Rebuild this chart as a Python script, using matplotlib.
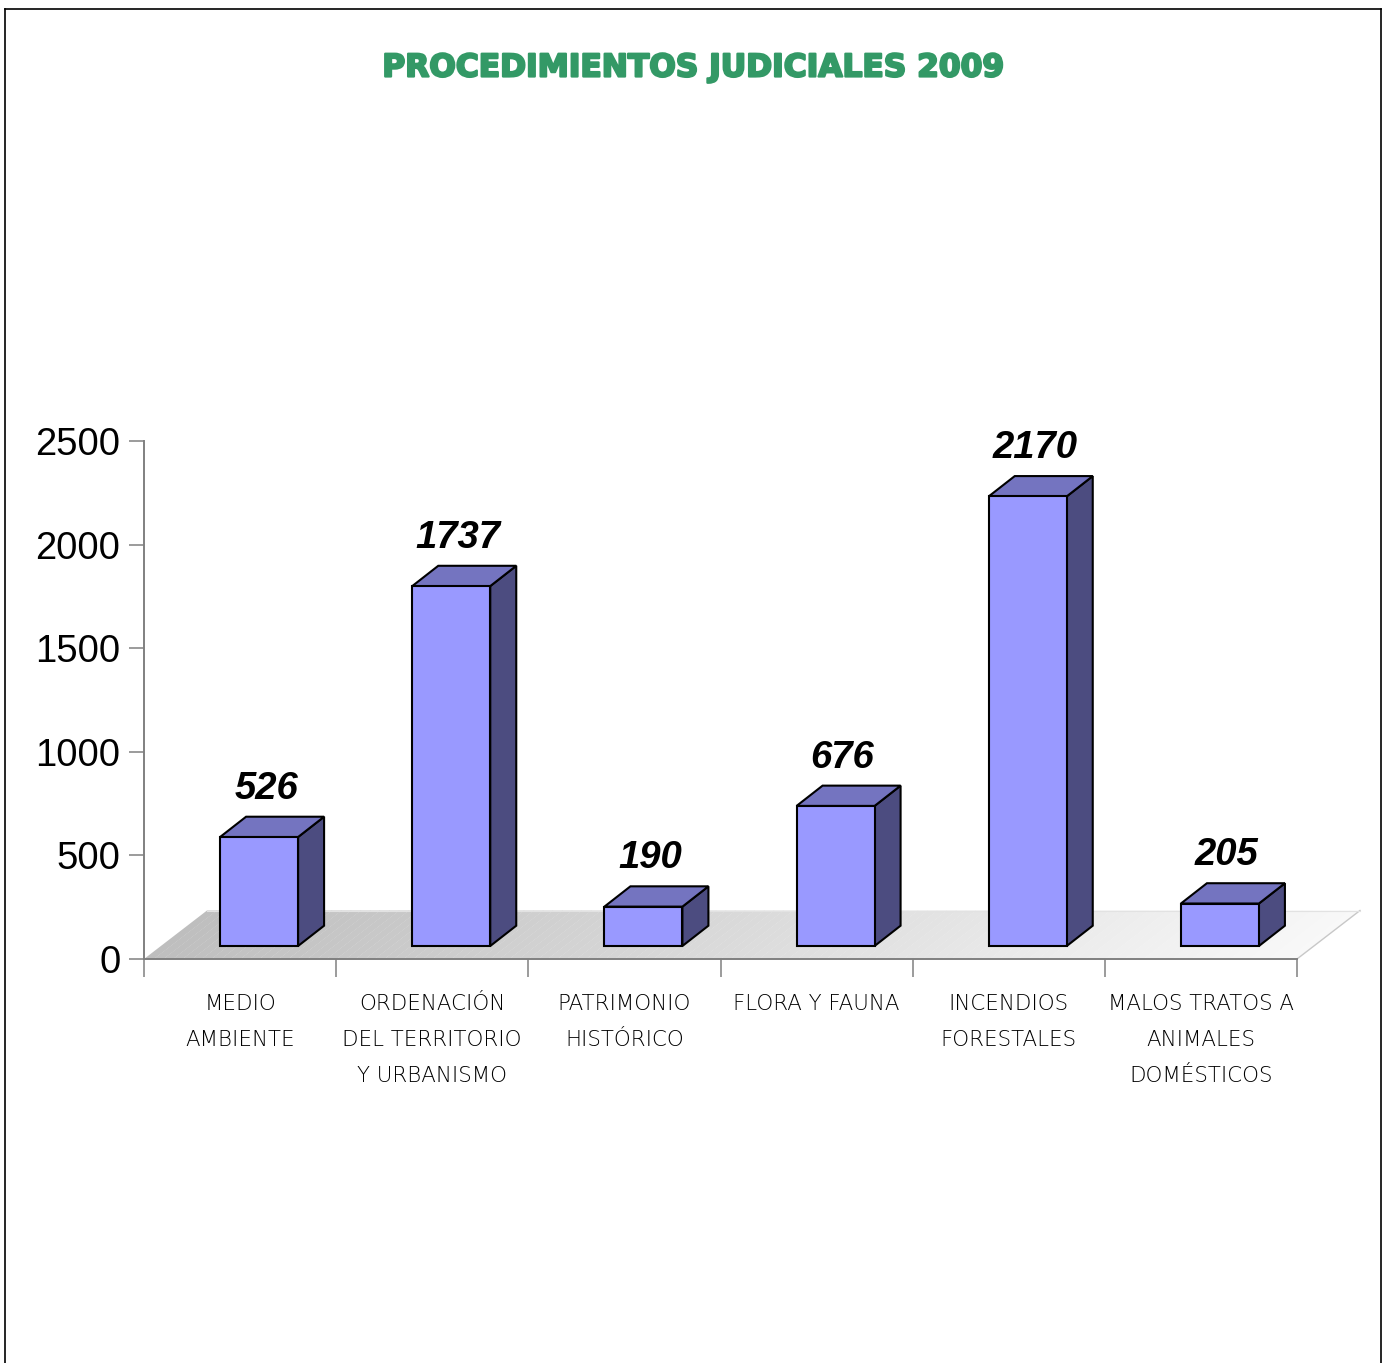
import matplotlib
matplotlib.use("Agg")
import matplotlib.pyplot as plt
from matplotlib.patches import Polygon
from matplotlib.lines import Line2D
import matplotlib.patheffects as pe
import numpy as np

# ---------------- data ----------------
title = "PROCEDIMIENTOS JUDICIALES 2009"
categories = ["MEDIO\nAMBIENTE",
              "ORDENACIÓN\nDEL TERRITORIO\nY URBANISMO",
              "PATRIMONIO\nHISTÓRICO",
              "FLORA Y FAUNA",
              "INCENDIOS\nFORESTALES",
              "MALOS TRATOS A\nANIMALES\nDOMÉSTICOS"]
values = [526, 1737, 190, 676, 2170, 205]
yticks = [0, 500, 1000, 1500, 2000, 2500]

# ---------------- style ----------------
FRONT = "#9999FF"
TOP = "#7474C0"
SIDE = "#4C4C80"
EDGE = "black"
AXIS = "#808080"
TITLE_C = "#339966"

W, H = 1388, 1363
fig = plt.figure(figsize=(W / 100, H / 100), dpi=100)
fig.patch.set_facecolor("white")

# frame around the chart
fig.add_artist(Line2D([5 / W, 5 / W], [0, 1 - 9 / H], color="black", lw=1.2, transform=fig.transFigure))
fig.add_artist(Line2D([5 / W, 1381 / W], [1 - 9 / H, 1 - 9 / H], color="black", lw=1.2, transform=fig.transFigure))
fig.add_artist(Line2D([1381 / W, 1381 / W], [0, 1 - 9 / H], color="black", lw=1.2, transform=fig.transFigure))

# axes placed in pixel terms
x0, x1, y0, y1 = 144, 1297, 959, 441
ax = fig.add_axes([x0 / W, 1 - y0 / H, (x1 - x0) / W, (y0 - y1) / H])
n = len(values)
ax.set_xlim(0, n)
ax.set_ylim(0, 2500)

pxx = (x1 - x0) / n          # px per category
pxy = (y0 - y1) / 2500.0     # px per value unit

def px2x(p):
    return p / pxx

def px2y(p):
    return p / pxy

# floor (oblique parallelogram with gradient)
fdx, fdy = px2x(63), px2y(48.5)
nstrip = 120
c_left = np.array([0xBE, 0xBE, 0xBE]) / 255
c_right = np.array([0xF8, 0xF8, 0xF8]) / 255
edges = np.linspace(0, n, nstrip + 1)
for k in range(nstrip):
    a, b = edges[k], edges[k + 1] + 0.002
    t = (k + 0.5) / nstrip
    col = c_left * (1 - t) + c_right * t
    ax.add_patch(Polygon([(a, 0), (b, 0), (b + fdx, fdy), (a + fdx, fdy)],
                         closed=True, facecolor=col, edgecolor="none",
                         clip_on=False, zorder=1))
ax.add_line(Line2D([n, n + fdx], [0, fdy], color="#C8C8C8", lw=1, clip_on=False, zorder=1.5))
ax.add_line(Line2D([fdx, n + fdx], [fdy, fdy], color="#E2E2E2", lw=0.8, clip_on=False, zorder=1.5))

# bars
bw = px2x(78)
boff = px2x(19)
bbase = px2y(13)
bdx, bdy = px2x(26), px2y(20.3)
for i, v in enumerate(values):
    c = i + 0.5
    xl = c + boff - bw / 2
    xr = xl + bw
    yb = bbase
    yt = bbase + v
    front = Polygon([(xl, yb), (xr, yb), (xr, yt), (xl, yt)], closed=True,
                    facecolor=FRONT, edgecolor=EDGE, lw=1.5, joinstyle="miter",
                    clip_on=False, zorder=3)
    top = Polygon([(xl, yt), (xr, yt), (xr + bdx, yt + bdy), (xl + bdx, yt + bdy)], closed=True,
                  facecolor=TOP, edgecolor=EDGE, lw=1.5, joinstyle="miter",
                  clip_on=False, zorder=3)
    side = Polygon([(xr, yb), (xr + bdx, yb + bdy), (xr + bdx, yt + bdy), (xr, yt)], closed=True,
                   facecolor=SIDE, edgecolor=EDGE, lw=1.5, joinstyle="miter",
                   clip_on=False, zorder=3)
    for p in (side, top, front):
        ax.add_patch(p)
    ax.text(c + boff + px2x(7), yt + bdy + px2y(18), str(v),
            ha="center", va="baseline", fontsize=27.5, fontweight="bold",
            fontstyle="italic", family="Liberation Sans", color="black", zorder=5)

# spines / ticks
for s in ("top", "right"):
    ax.spines[s].set_visible(False)
for s in ("left", "bottom"):
    ax.spines[s].set_color(AXIS)
    ax.spines[s].set_linewidth(1.4)
    ax.spines[s].set_zorder(2)
ax.patch.set_alpha(0)

ax.set_yticks(yticks)
ax.set_yticklabels([str(t) for t in yticks], family="Liberation Sans", fontsize=27.5)
ax.tick_params(axis="y", direction="out", length=11, width=1.1, color=AXIS, pad=6)

ax.set_xticks(np.arange(0, n + 1))
ax.set_xticklabels([])
ax.tick_params(axis="x", direction="out", length=13, width=1.1, color=AXIS)

for i, lab in enumerate(categories):
    ax.annotate(lab, xy=(i + 0.5, 0), xycoords=("data", "axes fraction"),
                xytext=(0, -25.3), textcoords="offset points",
                ha="center", va="top", fontsize=15.4, family="DejaVu Sans",
                fontweight="light", linespacing=1.99, color="black")

fig.text(693 / W, 1 - 68 / H, title, ha="center", va="center",
         fontsize=22.5, fontweight="bold", family="DejaVu Sans", color=TITLE_C,
         path_effects=[pe.withStroke(linewidth=1.6, foreground=TITLE_C)])

fig.savefig("out.png", dpi=100, facecolor="white")
